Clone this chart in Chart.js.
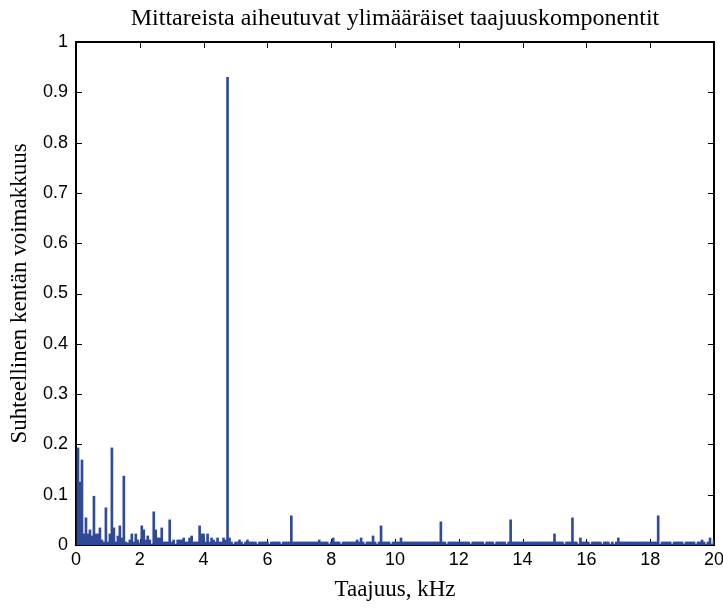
<!DOCTYPE html>
<html>
<head>
<meta charset="utf-8">
<script src="https://cdn.jsdelivr.net/npm/chart.js@4/dist/chart.umd.min.js"></script>
<style>
  html, body { margin: 0; padding: 0; background: #fff; }
  #chart { display: block; }
</style>
</head>
<body>
<canvas id="chart" width="723" height="608"></canvas>
<script>
// spectrum bins, 62.5 Hz each (16 bins per kHz)
const binWidthKHz = 0.0625

const band0to5 = [
  0.193, 0.125, 0.169, 0.022, 0.054, 0.022, 0.030, 0.018, 0.097, 0.022, 0.022, 0.034, 0.010, 0.006, 0.074, 0.006,
  0.022, 0.193, 0.034, 0.006, 0.018, 0.038, 0.014, 0.137, 0.006, 0.004, 0.010, 0.022, 0.006, 0.022, 0.010, 0.004,
  0.038, 0.030, 0.010, 0.018, 0.010, 0.002, 0.066, 0.030, 0.014, 0.014, 0.034, 0.006, 0.006, 0.006, 0.050, 0.006,
  0.010, 0.002, 0.010, 0.010, 0.010, 0.014, 0.006, 0.006, 0.014, 0.018, 0.006, 0.006, 0.006, 0.038, 0.022, 0.022,
  0.006, 0.022, 0.006, 0.014, 0.010, 0.006, 0.014, 0.006, 0.006, 0.014, 0.010, 0.930, 0.014, 0.006, 0.002, 0.006
]
const band5to10 = [
  0.006, 0.010, 0.006, 0.002, 0.006, 0.010, 0.006, 0.006, 0.006, 0.006, 0.002, 0.006, 0.006, 0.006, 0.006, 0.006,
  0.002, 0.006, 0.006, 0.006, 0.006, 0.006, 0.002, 0.006, 0.006, 0.006, 0.006, 0.058, 0.006, 0.006, 0.006, 0.006,
  0.006, 0.006, 0.006, 0.006, 0.006, 0.006, 0.006, 0.006, 0.006, 0.010, 0.006, 0.006, 0.006, 0.006, 0.002, 0.006,
  0.014, 0.006, 0.006, 0.006, 0.002, 0.006, 0.006, 0.006, 0.006, 0.006, 0.006, 0.006, 0.010, 0.006, 0.014, 0.006,
  0.002, 0.006, 0.006, 0.006, 0.018, 0.006, 0.002, 0.006, 0.038, 0.006, 0.006, 0.006, 0.006, 0.002, 0.006, 0.006
]
const band10to15 = [
  0.006, 0.006, 0.014, 0.006, 0.006, 0.006, 0.006, 0.006, 0.006, 0.006, 0.006, 0.006, 0.006, 0.006, 0.006, 0.006,
  0.006, 0.006, 0.006, 0.006, 0.006, 0.006, 0.046, 0.006, 0.006, 0.002, 0.006, 0.006, 0.006, 0.006, 0.006, 0.006,
  0.006, 0.006, 0.006, 0.006, 0.006, 0.002, 0.006, 0.006, 0.006, 0.006, 0.006, 0.006, 0.002, 0.006, 0.006, 0.006,
  0.006, 0.002, 0.006, 0.006, 0.006, 0.006, 0.006, 0.002, 0.006, 0.050, 0.006, 0.006, 0.006, 0.006, 0.006, 0.006,
  0.006, 0.006, 0.006, 0.006, 0.006, 0.006, 0.006, 0.006, 0.006, 0.006, 0.006, 0.006, 0.006, 0.006, 0.006, 0.022
]
const band15to20 = [
  0.006, 0.006, 0.006, 0.006, 0.002, 0.006, 0.006, 0.006, 0.054, 0.006, 0.006, 0.002, 0.014, 0.006, 0.006, 0.006,
  0.006, 0.002, 0.006, 0.006, 0.006, 0.006, 0.006, 0.002, 0.006, 0.006, 0.006, 0.002, 0.006, 0.002, 0.006, 0.014,
  0.006, 0.006, 0.006, 0.006, 0.006, 0.006, 0.006, 0.006, 0.006, 0.006, 0.006, 0.006, 0.006, 0.006, 0.006, 0.006,
  0.006, 0.006, 0.006, 0.058, 0.002, 0.006, 0.006, 0.006, 0.006, 0.006, 0.002, 0.006, 0.006, 0.006, 0.006, 0.006,
  0.002, 0.006, 0.006, 0.006, 0.006, 0.006, 0.002, 0.006, 0.006, 0.010, 0.006, 0.002, 0.006, 0.014, 0.002, 0.010
]

const xTicks = [0, 2, 4, 6, 8, 10, 12, 14, 16, 18, 20]
const yTicks = [0, 0.1, 0.2, 0.3, 0.4, 0.5, 0.6, 0.7, 0.8, 0.9, 1]
const yTickLabels = ['0', '0.1', '0.2', '0.3', '0.4', '0.5', '0.6', '0.7', '0.8', '0.9', '1']

const levels = [...band0to5, ...band5to10, ...band10to15, ...band15to20]
const points = levels.map((v, i) => ({ x: (i + 1) * binWidthKHz, y: v }))

const serif = '"Liberation Serif", "DejaVu Serif", serif'
const sans = '"Liberation Sans", Arial, sans-serif'

// matlab style box with inward ticks, drawn under the bars
const axesBox = {
  id: 'axesBox',
  beforeDatasetsDraw(chart) {
    const { ctx, chartArea: a, scales: { x, y } } = chart
    ctx.save()
    ctx.strokeStyle = '#000'
    ctx.lineWidth = 1
    ctx.beginPath()
    x.ticks.forEach(t => {
      const px = Math.round(x.getPixelForValue(t.value)) + 0.5
      ctx.moveTo(px, a.top); ctx.lineTo(px, a.top + 6)
      ctx.moveTo(px, a.bottom); ctx.lineTo(px, a.bottom - 6)
    })
    y.ticks.forEach(t => {
      const py = Math.round(y.getPixelForValue(t.value)) + 0.5
      ctx.moveTo(a.left, py); ctx.lineTo(a.left + 6, py)
      ctx.moveTo(a.right, py); ctx.lineTo(a.right - 6, py)
    })
    ctx.stroke()
    ctx.lineWidth = 2
    ctx.strokeRect(a.left, a.top, a.right - a.left, a.bottom - a.top)
    ctx.restore()
  }
}

const whiteBg = {
  id: 'whiteBg',
  beforeDraw(chart) {
    const { ctx, width, height } = chart
    ctx.save()
    ctx.fillStyle = '#fff'
    ctx.fillRect(0, 0, width, height)
    ctx.restore()
  }
}

new Chart(document.querySelector('#chart').getContext('2d'), {
  type: 'bar',
  data: {
    datasets: [{
      data: points,
      backgroundColor: '#304a96',
      borderWidth: 0,
      barPercentage: 1,
      categoryPercentage: 1
    }]
  },
  options: {
    responsive: false,
    animation: false,
    devicePixelRatio: 1,
    layout: { padding: { left: 0, right: 9, top: 0, bottom: 0 } },
    plugins: {
      legend: { display: false },
      tooltip: { enabled: false },
      title: {
        display: true,
        fullSize: false,
        text: 'Mittareista aiheutuvat ylimääräiset taajuuskomponentit',
        color: '#000',
        font: { family: serif, size: 24, weight: 'normal' },
        padding: { top: 4.4, bottom: 8.8 }
      }
    },
    scales: {
      x: {
        type: 'linear',
        min: 0,
        max: 20,
        offset: false,
        grid: { display: false, drawTicks: false },
        border: { display: false },
        afterBuildTicks: s => { s.ticks = xTicks.map(v => ({ value: v })) },
        afterFit: s => { s.height = 63; s.paddingLeft = 0; s.paddingRight = 0 },
        ticks: {
          color: '#000',
          padding: 4,
          maxRotation: 0,
          font: { family: sans, size: 18 },
          callback: v => String(v)
        },
        title: {
          display: true,
          text: 'Taajuus, kHz',
          color: '#000',
          font: { family: serif, size: 23 },
          padding: { top: 4, bottom: 4 }
        }
      },
      y: {
        min: 0,
        max: 1,
        grid: { display: false, drawTicks: false },
        border: { display: false },
        afterBuildTicks: s => { s.ticks = yTicks.map(v => ({ value: v })) },
        afterFit: s => { s.width = 76 },
        ticks: {
          color: '#000',
          padding: 8,
          font: { family: sans, size: 18 },
          callback: (v, i) => yTickLabels[i]
        },
        title: {
          display: true,
          text: 'Suhteellinen kentän voimakkuus',
          color: '#000',
          font: { family: serif, size: 23 },
          padding: { top: 6, bottom: 4 }
        }
      }
    }
  },
  plugins: [whiteBg, axesBox]
})
</script>
</body>
</html>
